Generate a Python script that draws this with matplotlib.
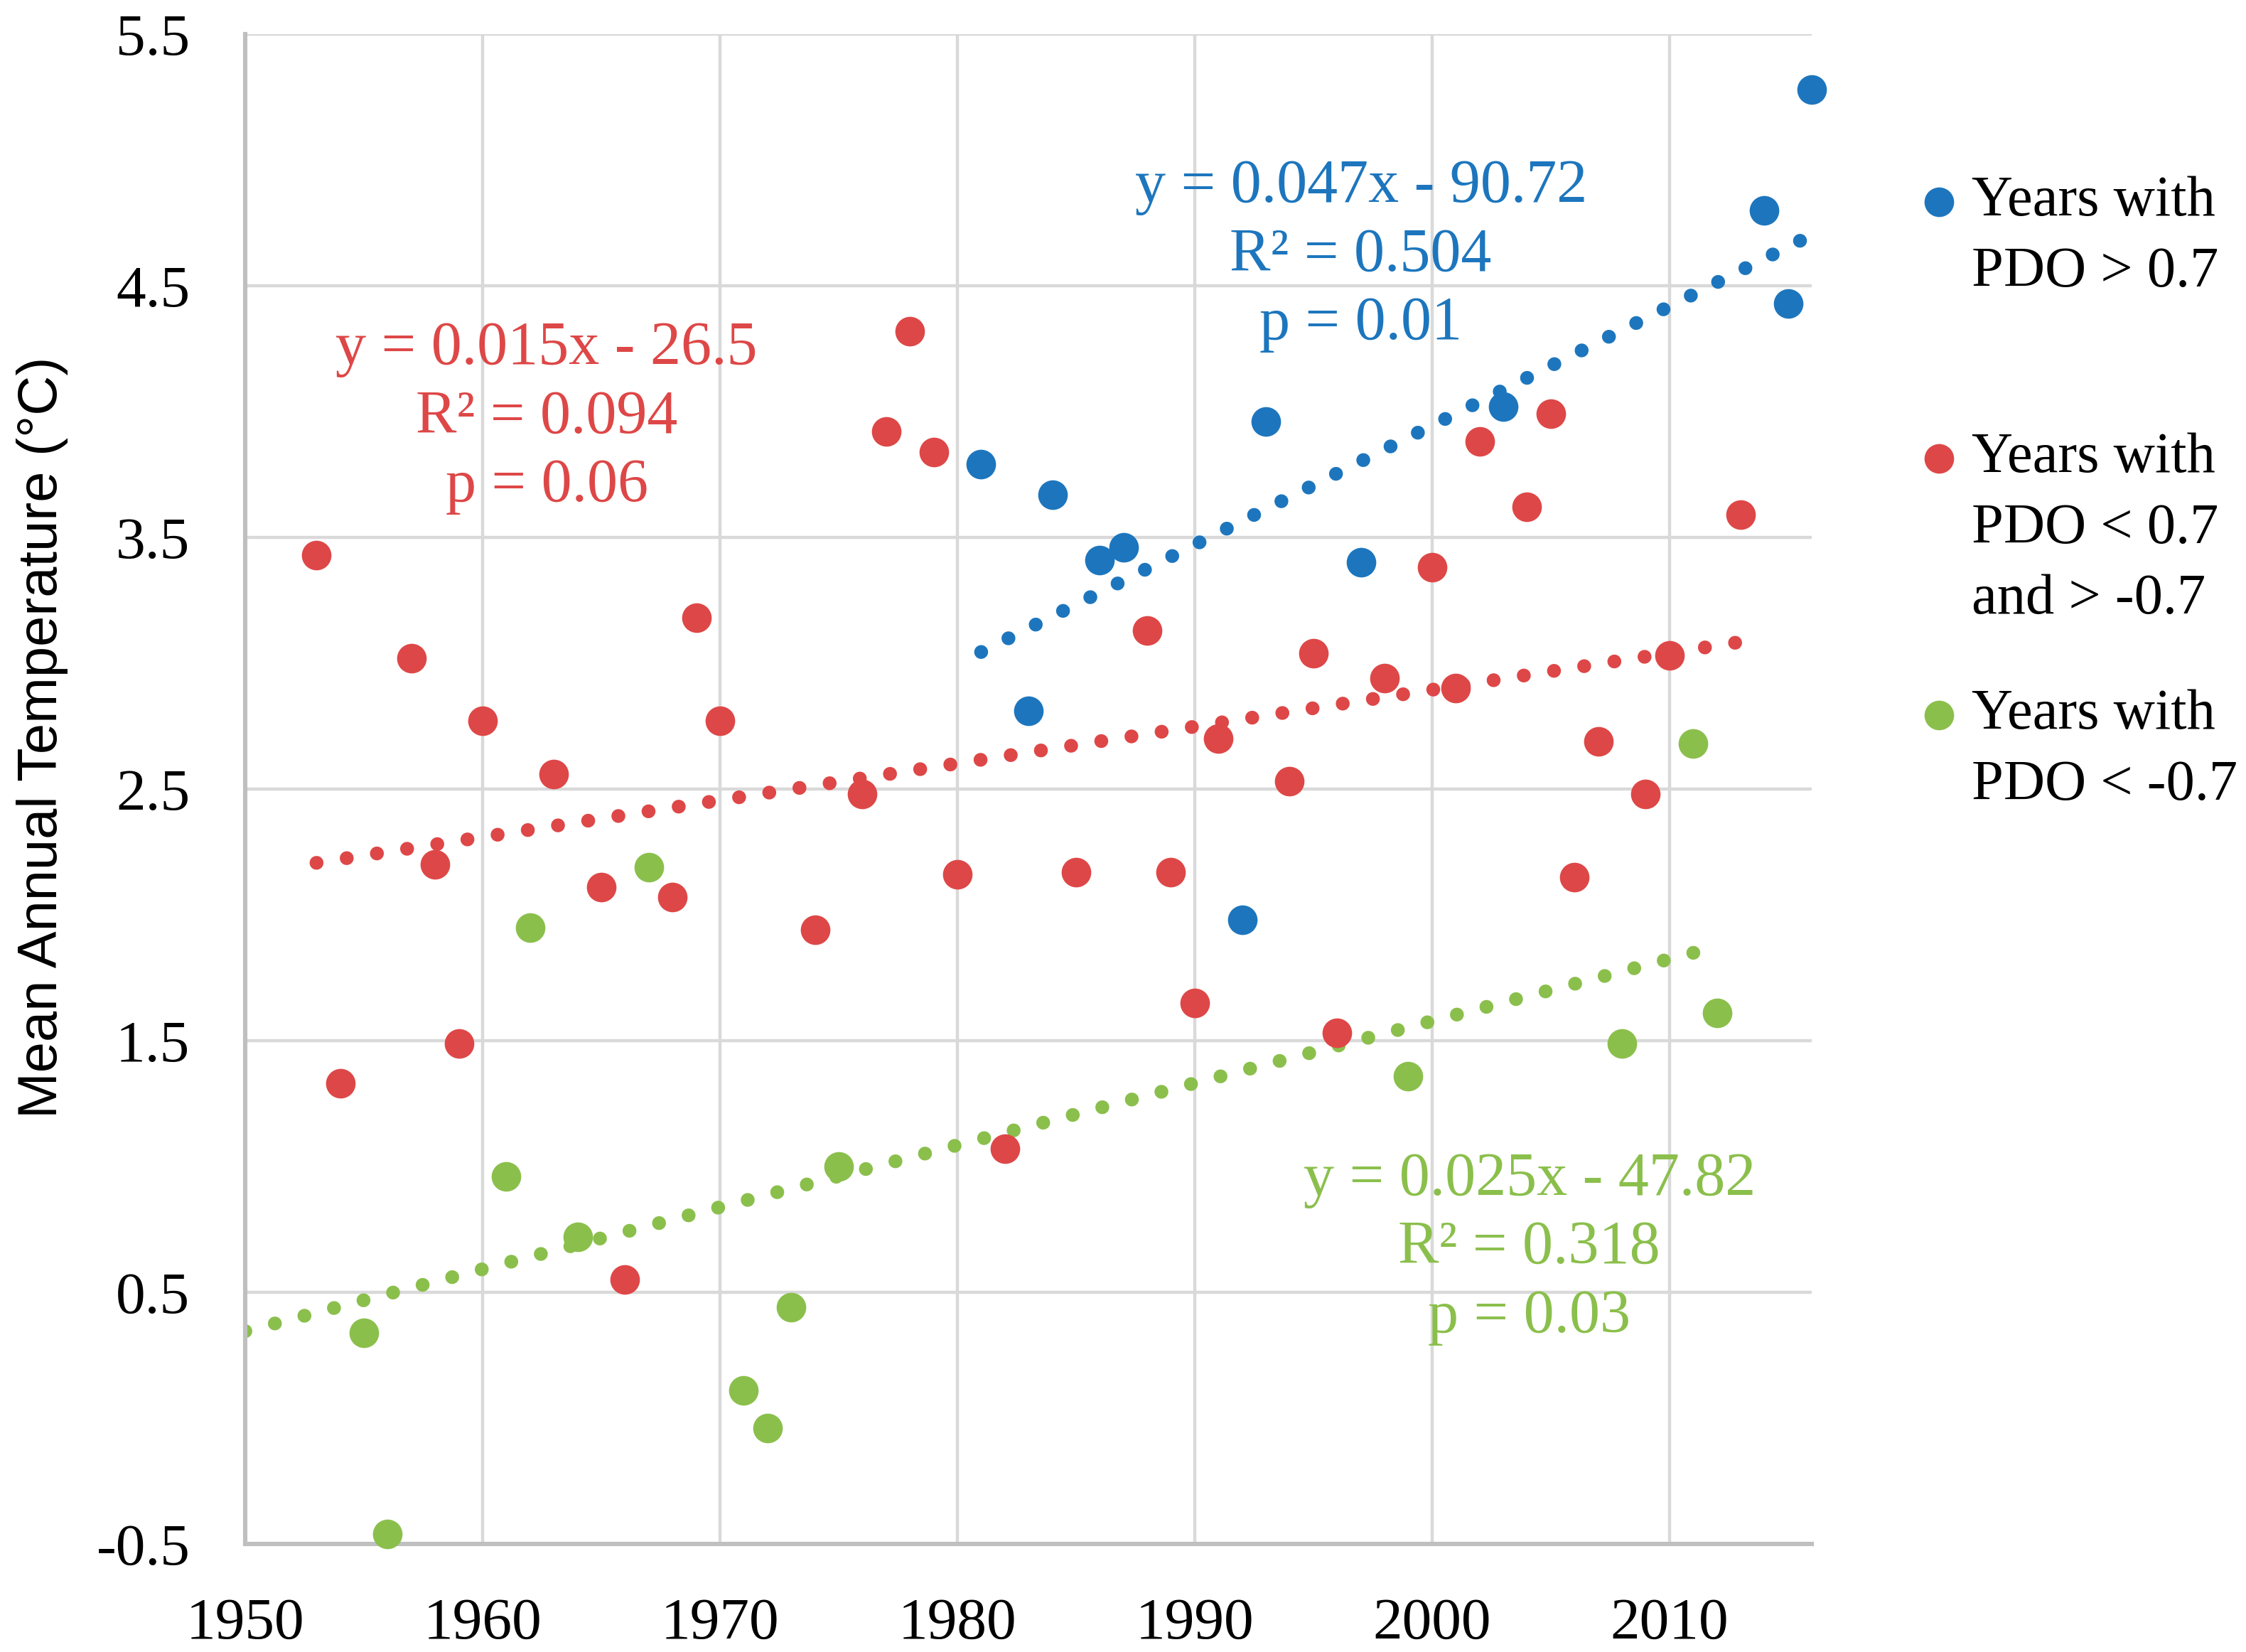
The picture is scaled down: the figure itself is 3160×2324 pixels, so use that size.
import numpy as np
import matplotlib
matplotlib.use('Agg')
import matplotlib.pyplot as plt

# Years with PDO > 0.7
blue_years = [1981, 1983, 1984, 1986, 1987, 1992, 1993, 1997, 2003, 2014, 2015, 2016]
blue_temps = [3.79, 2.81, 3.67, 3.41, 3.46, 1.98, 3.96, 3.40, 4.02, 4.80, 4.43, 5.28]

# Years with PDO < 0.7 and > -0.7
red_years = [1953, 1954, 1957, 1958, 1959, 1960, 1963, 1965, 1966, 1968, 1969, 1970,
             1974, 1976, 1977, 1978, 1979, 1980, 1982, 1985, 1988, 1989, 1990, 1991,
             1994, 1995, 1996, 1998, 2000, 2001, 2002, 2004, 2005, 2006, 2007, 2009,
             2010, 2013]
red_temps = [3.43, 1.33, 3.02, 2.20, 1.49, 2.77, 2.56, 2.11, 0.55, 2.07, 3.18, 2.77,
             1.94, 2.48, 3.92, 4.32, 3.84, 2.16, 1.07, 2.17, 3.13, 2.17, 1.65, 2.70,
             2.53, 3.04, 1.53, 2.94, 3.38, 2.90, 3.88, 3.62, 3.99, 2.15, 2.69, 2.48,
             3.03, 3.59]

# Years with PDO < -0.7
green_years = [1955, 1956, 1961, 1962, 1964, 1967, 1971, 1972, 1973, 1975, 1999, 2008,
               2011, 2012]
green_temps = [0.34, -0.46, 0.96, 1.95, 0.72, 2.19, 0.11, -0.04, 0.44, 1.00, 1.36, 1.49,
               2.68, 1.61]

blue_eq = ['y = 0.047x - 90.72', 'R² = 0.504', 'p = 0.01']
red_eq = ['y = 0.015x - 26.5', 'R² = 0.094', 'p = 0.06']
green_eq = ['y = 0.025x - 47.82', 'R² = 0.318', 'p = 0.03']

legend_labels = [['Years with', 'PDO > 0.7'],
                 ['Years with', 'PDO < 0.7', 'and > -0.7'],
                 ['Years with', 'PDO < -0.7']]

blue = '#1D76BD'
red = '#DE4747'
green = '#8BBF4C'

serif = ['Liberation Serif', 'DejaVu Serif']

fig = plt.figure(figsize=(15.8, 11.62), dpi=200)
ax = fig.add_axes([0.1092, 0.0654, 0.6975, 0.914])

# trendlines (least squares fit of each group), drawn as round dots
fits = [(red_years, red_temps, red, 1953, 2013),
        (blue_years, blue_temps, blue, 1981, 2016),
        (green_years, green_temps, green, 1950, 2011.5)]
for xs, ys, c, x0, x1 in fits:
    k, b = np.polyfit(xs, ys, 1)
    xx = np.array([x0, x1])
    ax.plot(xx, k * xx + b, color=c, lw=7, linestyle=(0, (0.01, 2.2)),
            dash_capstyle='round', zorder=2)

ax.plot(blue_years, blue_temps, 'o', color=blue, ms=15, mew=0, zorder=3, clip_on=False)
ax.plot(red_years, red_temps, 'o', color=red, ms=15, mew=0, zorder=3, clip_on=False)
ax.plot(green_years, green_temps, 'o', color=green, ms=15, mew=0, zorder=3, clip_on=False)

ax.set_xlim(1950, 2016)
ax.set_ylim(-0.5, 5.5)
ax.set_xticks(np.arange(1950, 2011, 10))
ax.set_yticks(np.arange(-0.5, 5.6, 1.0))
ax.set_yticklabels(['-0.5', '0.5', '1.5', '2.5', '3.5', '4.5', '5.5'])

ax.grid(True, color='#D9D9D9', lw=1.6, zorder=0)
ax.set_axisbelow(True)
for s in ['top', 'right']:
    ax.spines[s].set_visible(False)
for s in ['left', 'bottom']:
    ax.spines[s].set_color('#BFBFBF')
    ax.spines[s].set_linewidth(2.2)

ax.tick_params(length=0, labelsize=30)
ax.tick_params(axis='x', pad=27)
ax.tick_params(axis='y', pad=28)
for lab in ax.get_xticklabels() + ax.get_yticklabels():
    lab.set_family(serif)

ax.set_ylabel('Mean Annual Temperature (°C)', fontsize=28,
              family=['Liberation Sans Narrow', 'Liberation Sans', 'DejaVu Sans'])
ax.yaxis.set_label_coords(-0.113, 0.534)

# equation boxes
for lines, c, x, y in [(red_eq, red, 1962.7, 3.975),
                       (blue_eq, blue, 1997.0, 4.62),
                       (green_eq, green, 2004.1, 0.674)]:
    ax.text(x, y, '\n'.join(lines), color=c, fontsize=31, family=serif,
            ha='center', va='center', multialignment='center', linespacing=1.28,
            zorder=4)

# legend drawn by hand so each marker sits on the first line
line_step = 0.0468
for lines, c, y0 in [(legend_labels[0], blue, 0.889),
                     (legend_labels[1], red, 0.719),
                     (legend_labels[2], green, 0.549)]:
    ax.plot([1.081], [y0], 'o', color=c, ms=15, mew=0, transform=ax.transAxes,
            clip_on=False)
    for i, t in enumerate(lines):
        ax.text(1.102, y0 - i * line_step, t, transform=ax.transAxes, fontsize=29,
                family=serif, ha='left', va='center')

fig.savefig('out.png', dpi=200)
